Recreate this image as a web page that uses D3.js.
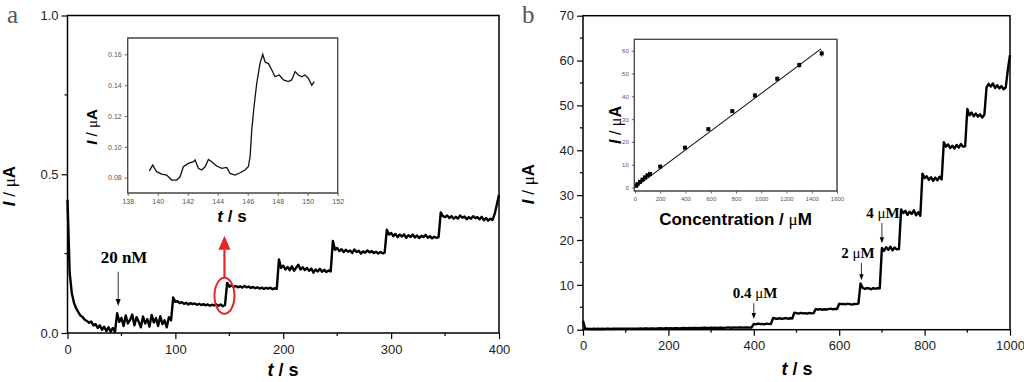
<!DOCTYPE html>
<html><head><meta charset="utf-8">
<script src="https://cdn.jsdelivr.net/npm/d3@7"></script>
<style>
body{margin:0;background:#fff}
svg{display:block}
</style>
</head><body>
<svg id="c" width="1024" height="382" font-family="Arial,'Liberation Sans',sans-serif"></svg>
<script>
// ---------------- DATA ----------------
// Panel a: amperometric response, sampled every 2 s from 0 to 400 s (µA)
const aSampleStep = 2;
const aCurrent = [
 0.42,0.19,0.125,0.095,0.078,0.066,0.055,0.05,0.042,0.038,
 0.032,0.036,0.024,0.028,0.016,0.024,0.01,0.02,0.006,0.018,
 0.004,0.016,0.003,0.062,0.035,0.048,0.022,0.055,0.03,0.041,
 0.058,0.024,0.05,0.036,0.018,0.052,0.03,0.044,0.02,0.057,
 0.033,0.047,0.022,0.053,0.028,0.04,0.018,0.05,0.04,0.112,
 0.098,0.1,0.094,0.097,0.092,0.095,0.09,0.094,0.091,0.093,
 0.089,0.092,0.088,0.091,0.087,0.09,0.086,0.089,0.087,0.09,
 0.086,0.09,0.084,0.088,0.158,0.146,0.15,0.145,0.148,0.144,
 0.147,0.143,0.148,0.144,0.146,0.142,0.145,0.141,0.144,0.14,
 0.143,0.139,0.142,0.14,0.143,0.138,0.141,0.139,0.232,0.205,
 0.212,0.2,0.208,0.198,0.21,0.196,0.206,0.215,0.2,0.207,
 0.198,0.205,0.196,0.203,0.19,0.2,0.194,0.202,0.193,0.199,
 0.192,0.197,0.194,0.29,0.262,0.268,0.258,0.264,0.255,0.262,
 0.256,0.26,0.252,0.263,0.255,0.259,0.25,0.257,0.253,0.26,
 0.254,0.258,0.252,0.256,0.25,0.255,0.251,0.253,0.325,0.31,
 0.315,0.305,0.312,0.302,0.31,0.304,0.311,0.3,0.308,0.303,
 0.31,0.301,0.307,0.299,0.306,0.302,0.309,0.3,0.305,0.298,
 0.303,0.3,0.302,0.38,0.368,0.365,0.37,0.362,0.368,0.36,
 0.366,0.36,0.37,0.363,0.367,0.358,0.365,0.36,0.368,0.362,
 0.365,0.358,0.366,0.355,0.362,0.354,0.36,0.356,0.375,0.405,
 0.435
];
const aXTicks = [0,100,200,300,400];
const aXMinor = [50,150,250,350];
const aYTicks = [0.0,0.5,1.0];
const aYMinor = [0.25,0.75];

// Panel a inset: zoom on the 146 s addition
const aInsetTime = [139.44,139.67,139.93,140.27,140.6,140.93,141.27,141.49,141.71,142.04,142.38,142.49,142.71,142.93,143.16,143.38,143.6,143.93,144.27,144.6,144.82,145.16,145.49,145.82,146.04,146.16,146.27,146.42,146.6,146.82,147.0,147.16,147.38,147.6,147.82,148.11,148.38,148.71,148.93,149.16,149.38,149.6,149.82,150.04,150.27,150.44];
const aInsetCurrent = [0.0845,0.0882,0.0839,0.0824,0.0817,0.0785,0.0785,0.0806,0.0871,0.0893,0.0904,0.0915,0.0861,0.085,0.0871,0.0919,0.0904,0.0876,0.0861,0.0867,0.0828,0.0817,0.0832,0.085,0.0871,0.0936,0.111,0.126,0.141,0.154,0.160,0.155,0.154,0.150,0.1455,0.1466,0.1434,0.1423,0.1434,0.1488,0.1466,0.1455,0.1466,0.1445,0.140,0.1423];
const aInsetXTicks = [138,140,142,144,146,148,150,152];
const aInsetYTicks = [0.08,0.10,0.12,0.14,0.16];

// Panel b: amperometric response, sampled every 5 s from 0 to 1000 s (µA)
const bSampleStep = 5;
const bCurrent = [
 2.0,0.3,0.2,0.15,0.15,0.2,0.15,0.2,0.15,0.2,
 0.15,0.2,0.2,0.15,0.2,0.2,0.25,0.2,0.2,0.25,
 0.2,0.25,0.2,0.25,0.25,0.2,0.25,0.3,0.25,0.3,
 0.3,0.25,0.3,0.3,0.25,0.3,0.35,0.3,0.3,0.35,
 0.3,0.35,0.3,0.35,0.35,0.3,0.35,0.4,0.35,0.35,
 0.4,0.35,0.4,0.4,0.35,0.4,0.4,0.45,0.4,0.4,
 0.45,0.4,0.45,0.4,0.45,0.45,0.4,0.45,0.5,0.45,
 0.45,0.5,0.45,0.5,0.5,0.45,0.5,0.5,0.45,0.5,
 1.3,1.2,1.35,1.25,1.3,1.2,1.35,1.3,1.25,2.6,
 2.5,2.4,2.55,2.45,2.5,2.6,2.45,2.55,2.5,3.8,
 3.7,3.6,3.75,3.65,3.7,3.6,3.75,3.65,3.7,4.6,
 4.5,4.6,4.45,4.55,4.5,4.6,4.7,4.55,4.65,4.6,
 5.8,5.7,5.75,5.65,5.8,5.7,5.6,5.75,5.7,5.8,
 10.3,9.3,9.1,9.3,9.2,9.0,9.3,9.1,9.25,9.2,
 18.2,17.6,18.4,17.8,18.5,17.7,18.3,17.9,18.0,26.8,
 26.0,26.5,25.6,26.3,25.8,26.6,25.5,26.2,25.4,34.8,
 33.8,34.2,33.4,34.0,33.2,33.9,33.3,34.1,33.5,41.8,
 40.8,41.3,40.5,41.0,40.4,41.2,40.6,41.4,40.8,40.9,
 49.2,47.8,48.4,47.6,48.2,47.5,48.0,47.3,47.9,54.0,
 54.8,54.2,54.9,53.9,54.5,53.8,54.3,53.6,54.0,58.0,
 61.2
];
const bXTicks = [0,200,400,600,800,1000];
const bXMinor = [100,300,500,700,900];
const bYTicks = [0,10,20,30,40,50,60,70];
const bYMinor = [5,15,25,35,45,55,65];

// Panel b inset: calibration plot
const bInsetConc = [10,20,40,60,80,100,120,200,396,581,771,950,1127,1301,1479];
const bInsetCurrent = [0.8,1.5,2.5,3.5,4.5,5.4,6.0,9.2,17.5,25.6,33.5,40.4,47.7,53.7,58.8];
const bInsetErr = [0.3,0.3,0.3,0.3,0.3,0.3,0.4,0.4,0.6,0.7,0.8,0.9,1.0,1.1,1.5];
const bFitConc = [5,1473];
const bFitCurrent = [0.2,60.8];
const bInsetXTicks = [0,200,400,600,800,1000,1200,1400,1600];
const bInsetYTicks = [0,10,20,30,40,50,60];

// ---------------- DRAWING ----------------
const svg = d3.select("#c");
const SANS = "Arial,'Liberation Sans',sans-serif";
const SERIF = "'Liberation Serif','Times New Roman',serif";

function axes(g, x, y, c) {
  const y0 = y.range()[0], x0 = x.range()[0];
  const gx = g.append("g").attr("transform", `translate(0,${y0})`)
    .call(d3.axisBottom(x).tickValues(c.xTicks).tickFormat(c.xFmt || d3.format("d"))
      .tickSize(c.major).tickSizeOuter(0).tickPadding(c.xPad));
  gx.attr("font-family", SANS);
  gx.select(".domain").remove();
  gx.selectAll(".tick line").attr("stroke", c.col).attr("stroke-width", c.tw);
  gx.selectAll("text").attr("font-size", c.fs).attr("fill", c.tcol);
  if (c.xMinor) gx.selectAll(".mn").data(c.xMinor).join("line").attr("class","mn")
    .attr("x1", d => x(d)).attr("x2", d => x(d)).attr("y1", 0).attr("y2", c.minor)
    .attr("stroke", c.col).attr("stroke-width", c.tw);
  const gy = g.append("g").attr("transform", `translate(${x0},0)`)
    .call(d3.axisLeft(y).tickValues(c.yTicks).tickFormat(c.yFmt || d3.format("d"))
      .tickSize(c.major).tickSizeOuter(0).tickPadding(c.yPad));
  gy.attr("font-family", SANS);
  gy.select(".domain").remove();
  gy.selectAll(".tick line").attr("stroke", c.col).attr("stroke-width", c.tw);
  gy.selectAll("text").attr("font-size", c.fs).attr("fill", c.tcol);
  if (c.yMinor) gy.selectAll(".mn").data(c.yMinor).join("line").attr("class","mn")
    .attr("y1", d => y(d)).attr("y2", d => y(d)).attr("x1", 0).attr("x2", -c.minor)
    .attr("stroke", c.col).attr("stroke-width", c.tw);
}
function frame(g, x, y, sw, col, fill) {
  const [xa, xb] = x.range(), [ya, yb] = y.range();
  return g.append("rect").attr("x", xa).attr("y", yb).attr("width", xb - xa).attr("height", ya - yb)
    .attr("fill", fill || "none").attr("stroke", col).attr("stroke-width", sw);
}
function iTitle(g, x, y, size) {
  const t = g.append("text").attr("transform", `translate(${x},${y}) rotate(-90)`)
    .attr("text-anchor", "middle").attr("font-size", size).attr("font-weight", "bold").attr("fill", "#000")
    .attr("font-family", SANS);
  t.append("tspan").attr("font-style", "italic").text("I");
  t.append("tspan").attr("font-weight", "normal").text(" / ");
  t.append("tspan").attr("font-weight", "normal").attr("font-family", SERIF).text("μ");
  t.append("tspan").text("A");
}
function tTitle(g, x, y, size) {
  const t = g.append("text").attr("x", x).attr("y", y).attr("text-anchor", "middle")
    .attr("font-size", size).attr("font-weight", "bold").attr("fill", "#000").attr("font-family", SANS);
  t.append("tspan").attr("font-style", "italic").text("t");
  t.append("tspan").text(" / s");
}
function arrowDown(g, x, y1, y2, col, sw, hw, hl) {
  g.append("line").attr("x1", x).attr("x2", x).attr("y1", y1).attr("y2", y2 - hl + 1).attr("stroke", col).attr("stroke-width", sw);
  g.append("path").attr("d", `M${x - hw},${y2 - hl}L${x + hw},${y2 - hl}L${x},${y2}Z`).attr("fill", col);
}

// ===== Panel a =====
const ga = svg.append("g");
const ax = d3.scaleLinear().domain([0, 400]).range([67.5, 499]);
const ay = d3.scaleLinear().domain([0, 1]).range([333, 15.5]);
axes(ga, ax, ay, {xTicks: aXTicks, xMinor: aXMinor, yTicks: aYTicks, yMinor: aYMinor,
  yFmt: d3.format(".1f"), major: 6, minor: 3, xPad: 6, yPad: 3, fs: 13, col: "#000", tcol: "#222", tw: 1.2});
const aLine = d3.line().x((d, i) => ax(i * aSampleStep)).y(d => ay(d));
ga.append("path").datum(aCurrent).attr("d", aLine).attr("fill", "none").attr("stroke", "#000")
  .attr("stroke-width", 2.4).attr("stroke-linejoin", "round");
frame(ga, ax, ay, 1.5, "#000");
iTitle(ga, 15, 186, 17);
tTitle(ga, 283, 376, 18);
ga.append("text").attr("x", 7).attr("y", 23).attr("font-family", SERIF).attr("font-size", 25).attr("fill", "#555").text("a");

// annotations a
ga.append("text").attr("x", ax(52.4)).attr("y", ay(0.22)).attr("text-anchor", "middle")
  .attr("font-family", SERIF).attr("font-weight", "bold").attr("font-size", 17).text("20 nM");
arrowDown(ga, ax(47), ay(0.193), ay(0.085), "#000", 0.8, 2.5, 7);
ga.append("ellipse").attr("cx", ax(145.5)).attr("cy", ay(0.117)).attr("rx", 10).attr("ry", 18)
  .attr("fill", "none").attr("stroke", "#e3262b").attr("stroke-width", 2);
ga.append("line").attr("x1", ax(145.5)).attr("x2", ax(145.5)).attr("y1", ay(0.175)).attr("y2", ay(0.262))
  .attr("stroke", "#e3262b").attr("stroke-width", 2.2);
ga.append("path").attr("d", `M${ax(145.5) - 6},${ay(0.262)}L${ax(145.5) + 6},${ay(0.262)}L${ax(145.5)},${ay(0.306)}Z`).attr("fill", "#e3262b");

// inset a
const gia = svg.append("g");
const iax = d3.scaleLinear().domain([138, 152]).range([127.7, 337.7]);
const iay = d3.scaleLinear().domain([0.0701, 0.1706]).range([193, 38]);
frame(gia, iax, iay, 1, "#444", "#fff");
axes(gia, iax, iay, {xTicks: aInsetXTicks, yTicks: aInsetYTicks, yFmt: d3.format(".2f"),
  major: 3, minor: 0, xPad: 3, yPad: 3, fs: 7, col: "#444", tcol: "#555", tw: 0.8});
const iaLine = d3.line().x((d, i) => iax(aInsetTime[i])).y(d => iay(d));
gia.append("path").datum(aInsetCurrent).attr("d", iaLine).attr("fill", "none").attr("stroke", "#111").attr("stroke-width", 1.3);
frame(gia, iax, iay, 1, "#444");
iTitle(gia, 97, 127, 15);
tTitle(gia, 232, 222, 17);

// ===== Panel b =====
const gb = svg.append("g");
const bx = d3.scaleLinear().domain([0, 1000]).range([583, 1010]);
const by = d3.scaleLinear().domain([0, 70]).range([329.7, 15.7]);
axes(gb, bx, by, {xTicks: bXTicks, xMinor: bXMinor, yTicks: bYTicks, yMinor: bYMinor,
  major: 6, minor: 3, xPad: 5, yPad: 3, fs: 13, col: "#000", tcol: "#222", tw: 1.2});
const bLine = d3.line().x((d, i) => bx(i * bSampleStep)).y(d => by(d));
gb.append("path").datum(bCurrent).attr("d", bLine).attr("fill", "none").attr("stroke", "#000")
  .attr("stroke-width", 2.4).attr("stroke-linejoin", "round");
frame(gb, bx, by, 1.5, "#000");
iTitle(gb, 534, 184, 17);
tTitle(gb, 797, 375, 18);
gb.append("text").attr("x", 522).attr("y", 23).attr("font-family", SERIF).attr("font-size", 25).attr("fill", "#555").text("b");

// annotations b
function muLabel(g, x, y, num) {
  const t = g.append("text").attr("x", x).attr("y", y).attr("text-anchor", "middle")
    .attr("font-family", SERIF).attr("font-size", 15).attr("fill", "#000");
  t.append("tspan").attr("font-weight", "bold").text(num + " ");
  t.append("tspan").text("μ");
  t.append("tspan").attr("font-weight", "bold").text("M");
}
muLabel(gb, 755, 298, "0.4");
arrowDown(gb, bx(400), by(5.9), by(2.4), "#000", 0.8, 2.2, 6);
muLabel(gb, 858, 257.5, "2");
arrowDown(gb, bx(652), by(14.9), by(11.0), "#000", 0.8, 2.2, 6);
muLabel(gb, 883, 217.5, "4");
arrowDown(gb, bx(700), by(23.8), by(19.3), "#000", 0.8, 2.2, 6);

// inset b
const gib = svg.append("g");
const ibx = d3.scaleLinear().domain([-5, 1600]).range([634.3, 837]);
const iby = d3.scaleLinear().domain([-1.5, 65]).range([191, 39.3]);
frame(gib, ibx, iby, 1, "#444", "#fff");
axes(gib, ibx, iby, {xTicks: bInsetXTicks, yTicks: bInsetYTicks,
  major: 2.5, minor: 0, xPad: 3, yPad: 3, fs: 6, col: "#444", tcol: "#555", tw: 0.8});
gib.append("line").attr("x1", ibx(bFitConc[0])).attr("y1", iby(bFitCurrent[0]))
  .attr("x2", ibx(bFitConc[1])).attr("y2", iby(bFitCurrent[1])).attr("stroke", "#111").attr("stroke-width", 1.1);
gib.selectAll(".eb").data(bInsetConc).join("line").attr("class", "eb")
  .attr("x1", d => ibx(d)).attr("x2", d => ibx(d))
  .attr("y1", (d, i) => iby(bInsetCurrent[i] - bInsetErr[i])).attr("y2", (d, i) => iby(bInsetCurrent[i] + bInsetErr[i]))
  .attr("stroke", "#333").attr("stroke-width", 0.8);
gib.selectAll(".pt").data(bInsetConc).join("rect").attr("class", "pt")
  .attr("x", d => ibx(d) - 2).attr("y", (d, i) => iby(bInsetCurrent[i]) - 2)
  .attr("width", 4).attr("height", 4).attr("fill", "#000");
frame(gib, ibx, iby, 1, "#444");
iTitle(gib, 621, 125, 16);
const ct = gib.append("text").attr("x", 735.5).attr("y", 225).attr("text-anchor", "middle")
  .attr("font-size", 17).attr("font-weight", "bold").attr("fill", "#000").attr("font-family", SANS);
ct.append("tspan").text("Concentration / ");
ct.append("tspan").attr("font-weight", "normal").attr("font-family", SERIF).text("μ");
ct.append("tspan").text("M");
</script>
</body></html>
